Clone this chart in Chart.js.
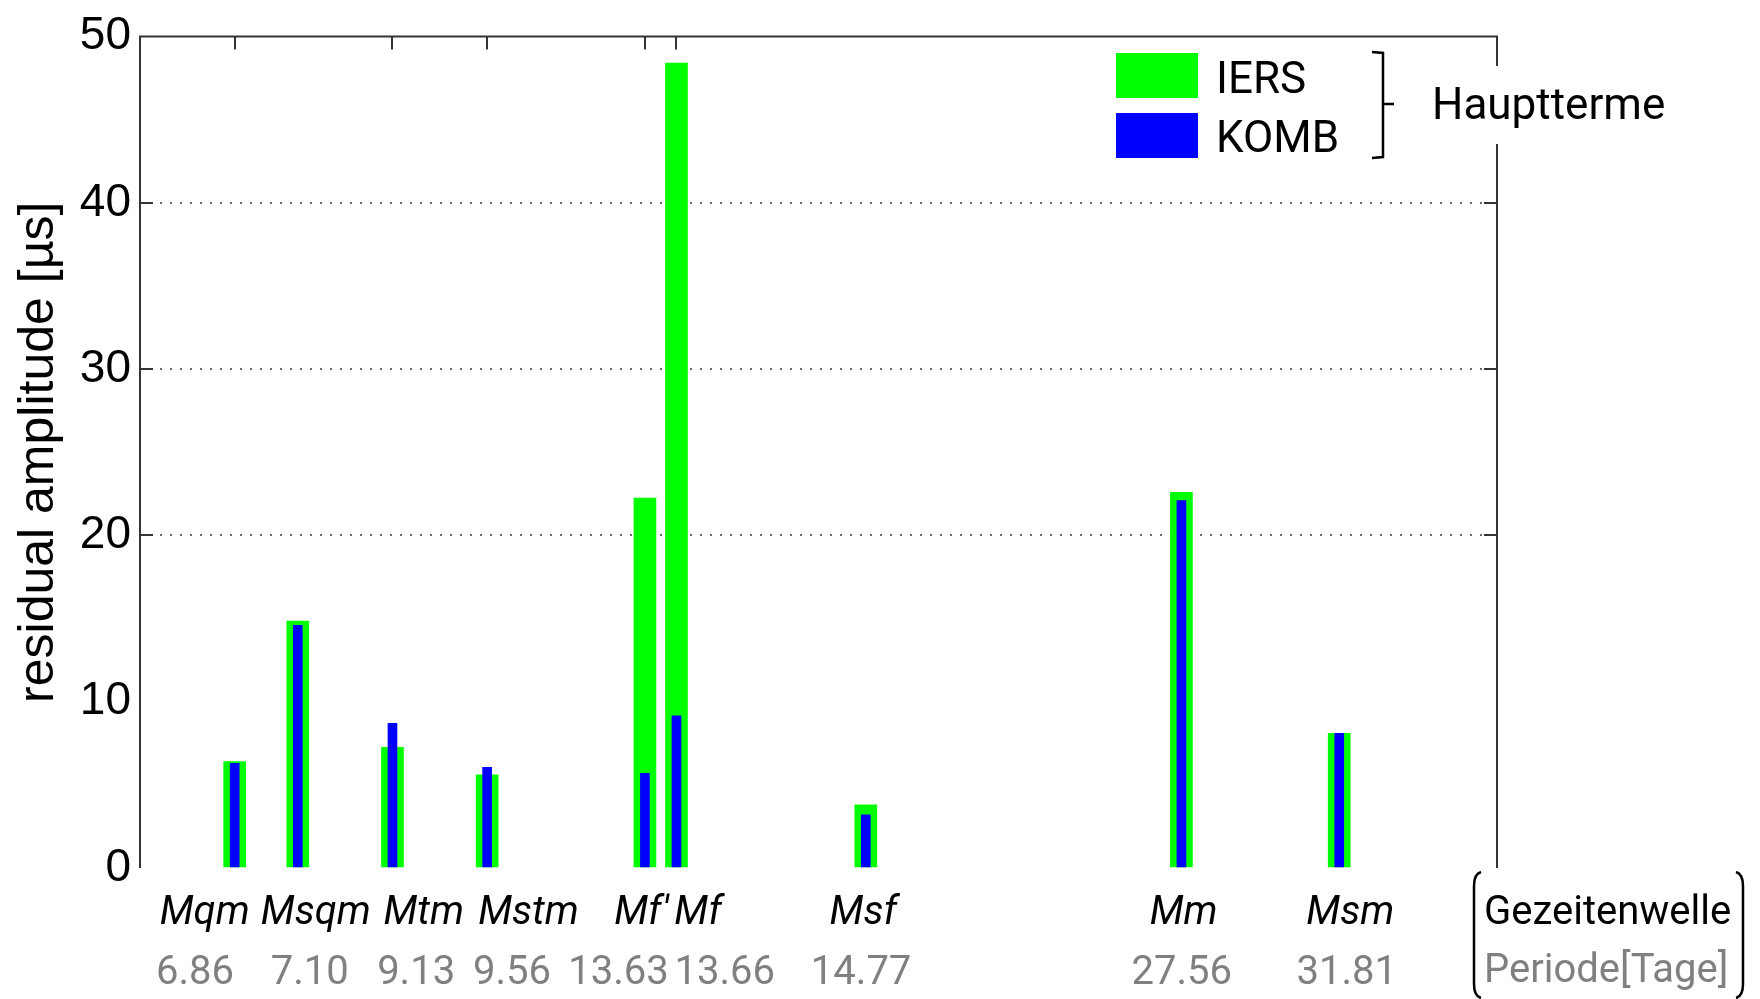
<!DOCTYPE html>
<html>
<head>
<meta charset="utf-8">
<script src="https://cdn.jsdelivr.net/npm/chart.js@4.4.1/dist/chart.umd.min.js"></script>
<style>
  html, body { margin: 0; padding: 0; background: #fff; }
  #wrap { width: 1760px; height: 999px; }
</style>
</head>
<body>
<div id="wrap"><canvas id="grafico" width="1760" height="999"></canvas></div>
<script>
// Gezeitenwellen (Reihenfolge wie im Bild)
const wellen = ['Mqm', 'Msqm', 'Mtm', 'Mstm', "Mf'", 'Mf', 'Msf', 'Mm', 'Msm']
const perioden = ['6.86', '7.10', '9.13', '9.56', '13.63', '13.66', '14.77', '27.56', '31.81']
// Lage der Balken auf der x-Achse (Slot-Nummer)
const slots = [3, 5, 8, 11, 16, 17, 23, 33, 38]

// residual amplitude [µs]
const iers = [6.4, 14.85, 7.25, 5.6, 22.25, 48.4, 3.8, 22.6, 8.1]
const komb = [6.3, 14.6, 8.7, 6.05, 5.7, 9.15, 3.2, 22.1, 8.1]

const yTicks = [0, 10, 20, 30, 40, 50]
const gitter = [20, 30, 40]
const obenTicks = [3, 8, 11, 16, 17]

// Beschriftungsorte (in Achseneinheiten)
const wellenAt = [2.05, 5.57, 8.99, 12.31, 15.89, 17.68, 22.92, 33.07, 38.35]
const periodenAt = [1.74, 5.38, 8.75, 11.79, 15.16, 18.53, 22.85, 33.01, 38.24]

const X_MAX = 43
const FONT_M = 'Roboto, "Liberation Sans", sans-serif'
const FONT_A = '"Liberation Sans", Arial, sans-serif'

const rahmen = {
  id: 'rahmen',
  afterDraw(chart) {
    const { ctx, chartArea: a, scales: { x, y } } = chart
    ctx.save()
    ctx.strokeStyle = '#333'
    ctx.lineWidth = 2
    ctx.beginPath()
    ctx.moveTo(a.left, a.bottom)
    ctx.lineTo(a.left, a.top)
    ctx.lineTo(a.right, a.top)
    ctx.lineTo(a.right, a.bottom)
    ctx.stroke()

    ctx.beginPath()
    gitter.forEach(v => {
      const py = Math.round(y.getPixelForValue(v))
      ctx.moveTo(a.left, py); ctx.lineTo(a.left + 13, py)
      ctx.moveTo(a.right, py); ctx.lineTo(a.right - 13, py)
    })
    obenTicks.forEach(v => {
      const px = Math.round(x.getPixelForValue(v))
      ctx.moveTo(px, a.top); ctx.lineTo(px, a.top + 13)
    })
    ctx.stroke()

    // Legende
    const ds = chart.data.datasets
    ctx.fillStyle = ds[0].backgroundColor
    ctx.fillRect(1116, 53, 82, 45)
    ctx.fillStyle = ds[1].backgroundColor
    ctx.fillRect(1116, 113, 82, 45)
    ctx.fillStyle = '#000'
    ctx.font = '44px ' + FONT_M
    ctx.textBaseline = 'middle'
    ctx.textAlign = 'left'
    ctx.fillText(ds[0].label, 1216, 82)
    ctx.fillText(ds[1].label, 1216, 141)

    // Klammer + Hauptterme
    ctx.fillStyle = '#fff'
    ctx.fillRect(1414, 66, 270, 78)
    ctx.strokeStyle = '#000'
    ctx.lineWidth = 2.5
    ctx.beginPath()
    ctx.moveTo(1372, 52); ctx.lineTo(1383, 53); ctx.lineTo(1383, 157); ctx.lineTo(1372, 158)
    ctx.moveTo(1383, 104); ctx.lineTo(1394, 104)
    ctx.stroke()
    ctx.fillStyle = '#000'
    ctx.fillText('Hauptterme', 1432, 108)

    // Achsenlegende unten rechts
    ctx.beginPath()
    ctx.moveTo(1481, 872); ctx.quadraticCurveTo(1474, 874, 1474, 886)
    ctx.lineTo(1474, 984); ctx.quadraticCurveTo(1474, 996, 1481, 998)
    ctx.moveTo(1736, 872); ctx.quadraticCurveTo(1743, 874, 1743, 886)
    ctx.lineTo(1743, 984); ctx.quadraticCurveTo(1743, 996, 1736, 998)
    ctx.stroke()
    ctx.font = '40px ' + FONT_M
    ctx.fillStyle = '#000'
    ctx.fillText('Gezeitenwelle', 1484, 914)
    ctx.fillStyle = '#808080'
    ctx.fillText('Periode[Tage]', 1484, 972)
    ctx.restore()
  }
}

new Chart(document.getElementById('grafico'), {
  type: 'bar',
  data: {
    datasets: [
      {
        label: 'IERS',
        data: slots.map((s, i) => ({ x: s, y: iers[i] })),
        backgroundColor: '#00ff00',
        borderWidth: 0,
        barThickness: 22,
        grouped: false,
        order: 2
      },
      {
        label: 'KOMB',
        data: slots.map((s, i) => ({ x: s, y: komb[i] })),
        backgroundColor: '#0000ff',
        borderWidth: 0,
        barThickness: 9,
        grouped: false,
        order: 1
      }
    ]
  },
  options: {
    responsive: false,
    animation: false,
    devicePixelRatio: 1,
    layout: { padding: { top: 28, right: 263, bottom: 0, left: 0 } },
    plugins: {
      legend: { display: false },
      tooltip: { enabled: false }
    },
    scales: {
      x: {
        type: 'linear',
        position: 'bottom',
        offset: false,
        min: 0,
        max: X_MAX,
        grid: { display: false, drawTicks: false, offset: false },
        border: { display: false },
        afterBuildTicks: s => { s.ticks = wellenAt.map(v => ({ value: v })) },
        afterFit: s => { s.height = 72 },
        ticks: {
          autoSkip: false,
          maxRotation: 0,
          padding: 22,
          color: '#000',
          font: { family: FONT_M, size: 40, style: 'italic' },
          callback: (v, i) => wellen[i]
        }
      },
      x2: {
        type: 'linear',
        position: 'bottom',
        offset: false,
        min: 0,
        max: X_MAX,
        grid: { display: false, drawTicks: false, offset: false },
        border: { display: false },
        afterBuildTicks: s => { s.ticks = periodenAt.map(v => ({ value: v })) },
        afterFit: s => { s.height = 59 },
        ticks: {
          autoSkip: false,
          maxRotation: 0,
          padding: 10,
          color: '#808080',
          font: { family: FONT_M, size: 40 },
          callback: (v, i) => perioden[i]
        }
      },
      y: {
        min: 0,
        max: 50,
        afterBuildTicks: s => { s.ticks = yTicks.map(v => ({ value: v })) },
        afterFit: s => { s.width = 140 },
        grid: {
          drawTicks: false,
          lineWidth: 2,
          color: c => gitter.includes(c.tick && c.tick.value) ? '#6a6a6a' : 'rgba(0,0,0,0)'
        },
        border: { display: false, dash: [2, 8] },
        ticks: {
          padding: 9,
          color: '#000',
          font: { family: FONT_A, size: 46 }
        },
        title: {
          display: true,
          text: 'residual amplitude [µs]',
          color: '#000',
          font: { family: FONT_A, size: 50 },
          padding: { top: 9, bottom: 0 }
        }
      }
    }
  },
  plugins: [rahmen]
})
</script>
</body>
</html>
